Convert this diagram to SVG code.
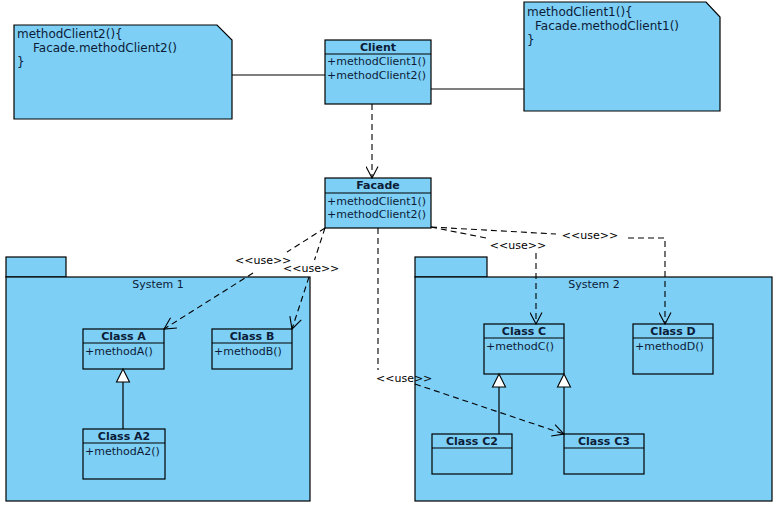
<svg xmlns="http://www.w3.org/2000/svg" width="777" height="513" viewBox="0 0 777 513">
<defs>
<style>
.box{fill:#7dcff5;stroke:#000;stroke-width:1.2}
.ln{stroke:#000;stroke-width:1.2;fill:none}
.dash{stroke:#000;stroke-width:1.1;fill:none;stroke-dasharray:6 4}
.t{font-family:"DejaVu Sans","Liberation Sans",sans-serif;font-size:11px;fill:#0c1c38}
.b{font-weight:bold;text-anchor:middle}
.n{font-family:"DejaVu Sans","Liberation Sans",sans-serif;font-size:12px;fill:#0c1c38}
.u{font-family:"DejaVu Sans","Liberation Sans",sans-serif;font-size:11px;fill:#000}
.tri{fill:#fff;stroke:#000;stroke-width:1.1}
</style>
<marker id="open" viewBox="0 0 13 13" refX="12" refY="6.5" markerWidth="13" markerHeight="13" markerUnits="userSpaceOnUse" orient="auto">
<path d="M0.5,0.5 L12,6.5 L0.5,12.5" fill="none" stroke="#000" stroke-width="1.1"/>
</marker>
</defs>
<rect width="777" height="513" fill="#fff"/>

<g id="system1">
<rect class="box" x="6" y="257" width="60" height="20"/>
<rect class="box" x="6" y="277" width="304" height="224"/>
<text class="t" x="158" y="288" text-anchor="middle">System 1</text>
</g>
<g id="system2">
<rect class="box" x="415" y="257" width="72" height="20"/>
<rect class="box" x="415" y="277" width="357" height="224"/>
<text class="t" x="594" y="288" text-anchor="middle">System 2</text>
</g>

<g id="note2">
<polygon class="box" points="14,25 217,25 232,40 232,119 14,119"/>
<text class="n" x="17" y="38">methodClient2(){</text>
<text class="n" x="33" y="52">Facade.methodClient2()</text>
<text class="n" x="17" y="66">}</text>
</g>
<g id="note1">
<polygon class="box" points="524,2 706,2 720,17 720,111 524,111"/>
<text class="n" x="527" y="16">methodClient1(){</text>
<text class="n" x="535" y="30">Facade.methodClient1()</text>
<text class="n" x="527" y="44">}</text>
</g>

<g id="client">
<rect class="box" x="325" y="40" width="106" height="64"/>
<line class="ln" x1="325" y1="54" x2="431" y2="54"/>
<text class="t b" x="378" y="51">Client</text>
<text class="t" x="327" y="65">+methodClient1()</text>
<text class="t" x="327" y="79">+methodClient2()</text>
</g>
<g id="facade">
<rect class="box" x="325" y="178" width="106" height="50"/>
<line class="ln" x1="325" y1="193" x2="431" y2="193"/>
<text class="t b" x="378" y="189">Facade</text>
<text class="t" x="327" y="205">+methodClient1()</text>
<text class="t" x="327" y="218">+methodClient2()</text>
</g>

<g id="classA">
<rect class="box" x="83" y="329" width="81" height="40"/>
<line class="ln" x1="83" y1="343" x2="164" y2="343"/>
<text class="t b" x="123.5" y="340">Class A</text>
<text class="t" x="85" y="355">+methodA()</text>
</g>
<g id="classB">
<rect class="box" x="212" y="329" width="80" height="40"/>
<line class="ln" x1="212" y1="343" x2="292" y2="343"/>
<text class="t b" x="252" y="340">Class B</text>
<text class="t" x="214" y="355">+methodB()</text>
</g>
<g id="classA2">
<rect class="box" x="83" y="429" width="82" height="50"/>
<line class="ln" x1="83" y1="443" x2="165" y2="443"/>
<text class="t b" x="124" y="440">Class A2</text>
<text class="t" x="85" y="455">+methodA2()</text>
</g>
<g id="classC">
<rect class="box" x="484" y="324" width="80" height="50"/>
<line class="ln" x1="484" y1="338" x2="564" y2="338"/>
<text class="t b" x="524" y="335">Class C</text>
<text class="t" x="486" y="350">+methodC()</text>
</g>
<g id="classD">
<rect class="box" x="633" y="324" width="80" height="50"/>
<line class="ln" x1="633" y1="338" x2="713" y2="338"/>
<text class="t b" x="673" y="335">Class D</text>
<text class="t" x="635" y="350">+methodD()</text>
</g>
<g id="classC2">
<rect class="box" x="432" y="434" width="80" height="40"/>
<line class="ln" x1="432" y1="448" x2="512" y2="448"/>
<text class="t b" x="472" y="445">Class C2</text>
</g>
<g id="classC3">
<rect class="box" x="564" y="434" width="80" height="40"/>
<line class="ln" x1="564" y1="448" x2="644" y2="448"/>
<text class="t b" x="604" y="445">Class C3</text>
</g>

<g id="connectors">
<line class="ln" x1="232" y1="75" x2="325" y2="75"/>
<line class="ln" x1="431" y1="89" x2="524" y2="89"/>
<path class="dash" d="M372,104 L372,178" marker-end="url(#open)"/>

<path class="dash" d="M325,228 L287,252"/>
<path class="dash" d="M253,273 L164,329" marker-end="url(#open)"/>
<text class="u" x="235" y="264">&lt;&lt;use&gt;&gt;</text>

<path class="dash" d="M325,228 L314.5,260"/>
<path class="dash" d="M309,277 L292,329" marker-end="url(#open)"/>
<text class="u" x="283" y="272">&lt;&lt;use&gt;&gt;</text>

<path class="dash" d="M431,227 L486,238"/>
<path class="dash" d="M536,253 L536,324" marker-end="url(#open)"/>
<text class="u" x="518" y="249" text-anchor="middle">&lt;&lt;use&gt;&gt;</text>

<path class="dash" d="M431,227 L556,234"/>
<path class="dash" d="M628,238 L665,238 L665,324" marker-end="url(#open)"/>
<text class="u" x="590" y="239" text-anchor="middle">&lt;&lt;use&gt;&gt;</text>

<path class="dash" d="M378,228 L378,370"/>
<path class="dash" d="M415,384 L564,434" marker-end="url(#open)"/>
<text class="u" x="376" y="382">&lt;&lt;use&gt;&gt;</text>

<line class="ln" x1="123" y1="429" x2="123" y2="382"/>
<polygon class="tri" points="123,369 116.5,382 129.5,382"/>
<line class="ln" x1="499" y1="434" x2="499" y2="387"/>
<polygon class="tri" points="499,374 492.5,387 505.5,387"/>
<line class="ln" x1="564" y1="434" x2="564" y2="387"/>
<polygon class="tri" points="564,374 557.5,387 570.5,387"/>
</g>
</svg>
